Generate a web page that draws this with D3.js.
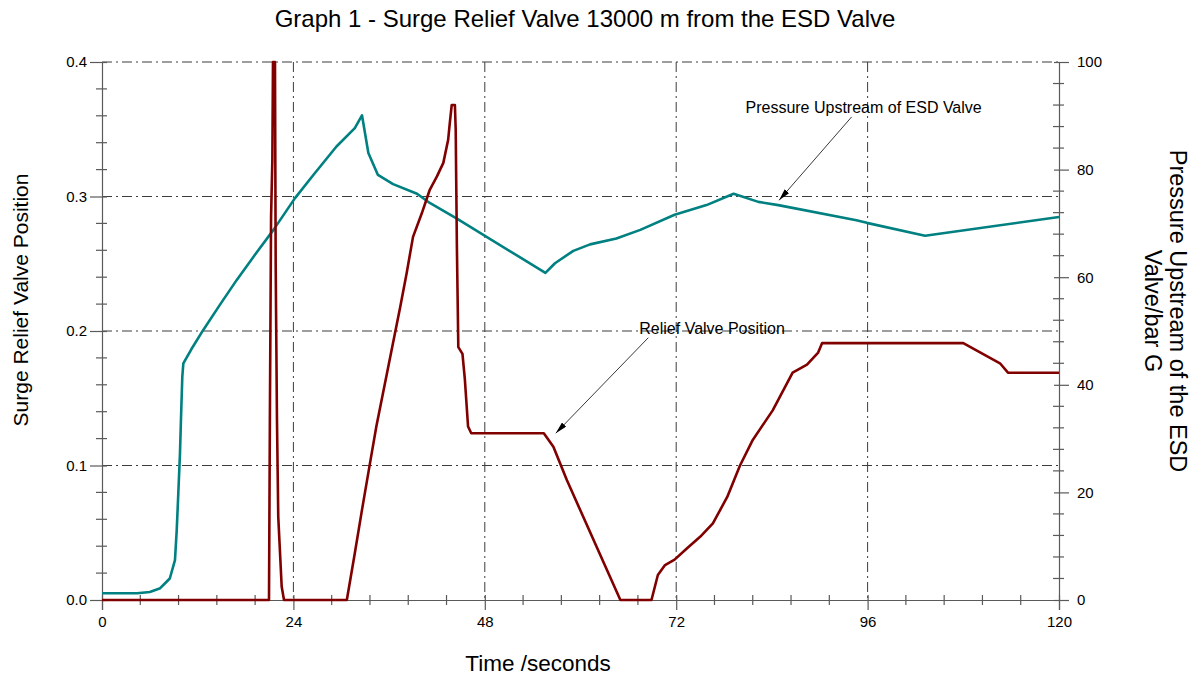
<!DOCTYPE html>
<html>
<head>
<meta charset="utf-8">
<script src="https://cdn.jsdelivr.net/npm/d3@7"></script>
<style>
  html, body { margin: 0; padding: 0; background: #fff; }
  svg { display: block; font-family: "Liberation Sans", Arial, sans-serif; }
</style>
</head>
<body>
<svg id="chart" width="1198" height="677"></svg>
<script>
// Pressure upstream of the ESD valve (bar G) against time (s)
const pressureTime = [0, 4.4, 6.0, 7.3, 8.5, 9.15, 9.37, 9.57, 9.78, 9.9, 10.07, 10.2, 11.2, 12.7, 14.8, 16.9, 19.2, 21.5, 24.2, 26.5, 29.4, 31.7, 32.6, 33.4, 34.6, 36.5, 39.5, 41.1, 44.5, 55.6, 56.8, 59.1, 61.2, 64.5, 67.5, 71.8, 75.8, 79.2, 82.3, 84.8, 94.6, 95.9, 103.2, 120];
const pressureValue = [1.25, 1.25, 1.5, 2.2, 4.0, 7.4, 13.0, 19.9, 27.3, 33.5, 41.5, 44.0, 46.6, 50.2, 54.9, 59.5, 64.2, 68.8, 74.7, 79.0, 84.3, 87.7, 90.1, 83.1, 79.0, 77.3, 75.5, 73.8, 70.9, 60.8, 62.6, 64.9, 66.1, 67.2, 68.8, 71.6, 73.4, 75.5, 74.0, 73.4, 70.6, 70.1, 67.7, 71.2];

// Surge relief valve position (fraction open) against time (s)
const reliefTime = [0, 20.94, 21.05, 21.2, 21.36, 21.44, 21.69, 21.78, 21.94, 22.1, 22.53, 22.82, 30.7, 31.7, 32.6, 33.6, 34.4, 37.4, 38.2, 39.0, 40.1, 41.1, 42.0, 42.8, 43.4, 43.6, 43.85, 44.25, 44.35, 44.5, 44.68, 45.2, 45.5, 45.9, 46.3, 55.4, 56.6, 58.3, 65.0, 68.9, 69.7, 70.6, 71.8, 73.4, 75.0, 76.6, 78.4, 80.0, 81.6, 84.1, 86.6, 88.4, 89.8, 90.3, 108.0, 112.6, 113.6, 120];
const reliefValue = [0, 0, 0.134, 0.285, 0.327, 0.4, 0.4, 0.248, 0.134, 0.062, 0.01, 0, 0, 0.0347, 0.067, 0.1016, 0.129, 0.218, 0.243, 0.270, 0.2875, 0.305, 0.315, 0.325, 0.342, 0.354, 0.368, 0.368, 0.35, 0.263, 0.188, 0.183, 0.164, 0.129, 0.124, 0.124, 0.114, 0.089, 0, 0, 0.0186, 0.026, 0.030, 0.0387, 0.047, 0.057, 0.0766, 0.100, 0.119, 0.141, 0.169, 0.175, 0.184, 0.191, 0.191, 0.176, 0.169, 0.169];

// Axis ticks
const timeTicks = [0, 24, 48, 72, 96, 120];
const positionTicks = [0, 0.1, 0.2, 0.3, 0.4];
const pressureTicks = [0, 20, 40, 60, 80, 100];

const titleText = "Graph 1 - Surge Relief Valve 13000 m from the ESD Valve";
const xTitle = "Time /seconds";
const yLeftTitle = "Surge Relief Valve Position";
const yRightTitle = ["Pressure Upstream of the ESD", "Valve/bar G"];

const svg = d3.select("#chart");
const margin = { left: 102, right: 139, top: 62, bottom: 77 };
const W = 1198, H = 677;
const x0 = margin.left, x1 = W - margin.right, y0 = H - margin.bottom, y1 = margin.top;

const x = d3.scaleLinear().domain([0, 120]).range([x0, x1]);
const yL = d3.scaleLinear().domain([0, 0.4]).range([y0, y1]);
const yR = d3.scaleLinear().domain([0, 100]).range([y0, y1]);

const gridColor = "#3c3c3c";
const axisColor = "#5a5a5a";
const dash = "10,4,2,4";

// grid
const grid = svg.append("g");
grid.selectAll("line.h").data(positionTicks.filter(d => d > 0)).join("line")
  .attr("x1", x0).attr("x2", x1).attr("y1", d => yL(d)).attr("y2", d => yL(d))
  .attr("stroke", gridColor).attr("stroke-width", 1).attr("stroke-dasharray", dash);
grid.selectAll("line.v").data(timeTicks.filter(d => d > 0 && d < 120)).join("line")
  .attr("x1", d => x(d)).attr("x2", d => x(d)).attr("y1", y1).attr("y2", y0)
  .attr("stroke", gridColor).attr("stroke-width", 1).attr("stroke-dasharray", dash);

function styleAxis(g) {
  g.select(".domain").attr("stroke", axisColor).attr("stroke-width", 1.2);
  g.selectAll(".tick line").attr("stroke", axisColor).attr("stroke-width", 1.2);
  g.selectAll(".tick text").attr("fill", "#000").style("font-size", "15px");
}

// minor ticks (crossing the axis line)
const minorTime = d3.range(0, 120.01, 4.8).filter(v => Math.abs(v / 24 - Math.round(v / 24)) > 1e-6);
const minorPos = d3.range(0, 0.4001, 0.02).filter(v => Math.abs(v / 0.1 - Math.round(v / 0.1)) > 1e-6);
const minorPres = d3.range(0, 100.01, 4).filter(v => v % 20 !== 0);

// left axis
const gL = svg.append("g").attr("transform", `translate(${x0},0)`)
  .call(d3.axisLeft(yL).tickValues(positionTicks).tickFormat(d3.format(".1f")).tickSize(12).tickPadding(3));
styleAxis(gL);
gL.selectAll(".tick line").attr("x1", 5);
svg.append("g").selectAll("line").data(minorPos).join("line")
  .attr("x1", x0 - 6).attr("x2", x0 + 5).attr("y1", d => yL(d)).attr("y2", d => yL(d))
  .attr("stroke", axisColor).attr("stroke-width", 1.2);

// bottom axis
const gB = svg.append("g").attr("transform", `translate(0,${y0})`)
  .call(d3.axisBottom(x).tickValues(timeTicks).tickFormat(d3.format("d")).tickSize(10).tickPadding(6));
styleAxis(gB);
gB.selectAll(".tick line").attr("y1", -5);
svg.append("g").selectAll("line").data(minorTime).join("line")
  .attr("x1", d => x(d)).attr("x2", d => x(d)).attr("y1", y0 - 5).attr("y2", y0 + 5)
  .attr("stroke", axisColor).attr("stroke-width", 1.2);

// right axis
const gR = svg.append("g").attr("transform", `translate(${x1},0)`)
  .call(d3.axisRight(yR).tickValues(pressureTicks).tickFormat(d3.format("d")).tickSize(10).tickPadding(8));
styleAxis(gR);
gR.selectAll(".tick line").attr("x1", -5);
svg.append("g").selectAll("line").data(minorPres).join("line")
  .attr("x1", x1 - 6).attr("x2", x1 + 5).attr("y1", d => yR(d)).attr("y2", d => yR(d))
  .attr("stroke", axisColor).attr("stroke-width", 1.2);

// series
const pressureData = pressureTime.map((t, i) => [t, pressureValue[i]]);
const reliefData = reliefTime.map((t, i) => [t, reliefValue[i]]);

svg.append("path").datum(pressureData)
  .attr("fill", "none").attr("stroke", "#008080").attr("stroke-width", 2.6)
  .attr("stroke-linejoin", "round")
  .attr("d", d3.line().x(d => x(d[0])).y(d => yR(d[1])));

svg.append("path").datum(reliefData)
  .attr("fill", "none").attr("stroke", "#800000").attr("stroke-width", 2.6)
  .attr("stroke-linejoin", "round")
  .attr("d", d3.line().x(d => x(d[0])).y(d => yL(d[1])));

// annotations with arrows
const defs = svg.append("defs");
defs.append("marker").attr("id", "arrowHead")
  .attr("viewBox", "0 0 12 6").attr("refX", 12).attr("refY", 3)
  .attr("markerWidth", 12).attr("markerHeight", 6).attr("markerUnits", "userSpaceOnUse")
  .attr("orient", "auto")
  .append("path").attr("d", "M0,0 L12,3 L0,6 Z").attr("fill", "#000");

const notes = [
  { text: "Pressure Upstream of ESD Valve", tx: 95.5, ty: yR(91.6), from: [94.0, yR(89.8)], to: [84.9, yR(74.3)] },
  { text: "Relief Valve Position", tx: 76.5, ty: yL(0.2022), from: [68.5, yL(0.195)], to: [56.9, yL(0.124)] }
];
notes.forEach(n => {
  svg.append("line")
    .attr("x1", x(n.from[0])).attr("y1", n.from[1])
    .attr("x2", x(n.to[0])).attr("y2", n.to[1])
    .attr("stroke", "#222").attr("stroke-width", 0.9)
    .attr("marker-end", "url(#arrowHead)");
  svg.append("text").attr("x", x(n.tx)).attr("y", n.ty)
    .attr("text-anchor", "middle").attr("dominant-baseline", "central")
    .style("font-size", "16px").attr("fill", "#000").text(n.text);
});

// titles
svg.append("text").attr("x", 585).attr("y", 18)
  .attr("text-anchor", "middle").attr("dominant-baseline", "central")
  .style("font-size", "24px").text(titleText);

svg.append("text").attr("x", 538).attr("y", 663)
  .attr("text-anchor", "middle").attr("dominant-baseline", "central")
  .style("font-size", "22.5px").text(xTitle);

svg.append("text").attr("transform", `translate(20,${(y0 + y1) / 2 - 31}) rotate(-90)`)
  .attr("text-anchor", "middle").attr("dominant-baseline", "central")
  .style("font-size", "21px").text(yLeftTitle);

const rt = svg.append("text").attr("transform", `translate(1165,311) rotate(90)`)
  .attr("text-anchor", "middle").style("font-size", "23.5px");
rt.append("tspan").attr("x", 0).attr("y", -13).attr("dominant-baseline", "central").text(yRightTitle[0]);
rt.append("tspan").attr("x", 0).attr("y", 12).attr("dominant-baseline", "central").text(yRightTitle[1]);
</script>
</body>
</html>
